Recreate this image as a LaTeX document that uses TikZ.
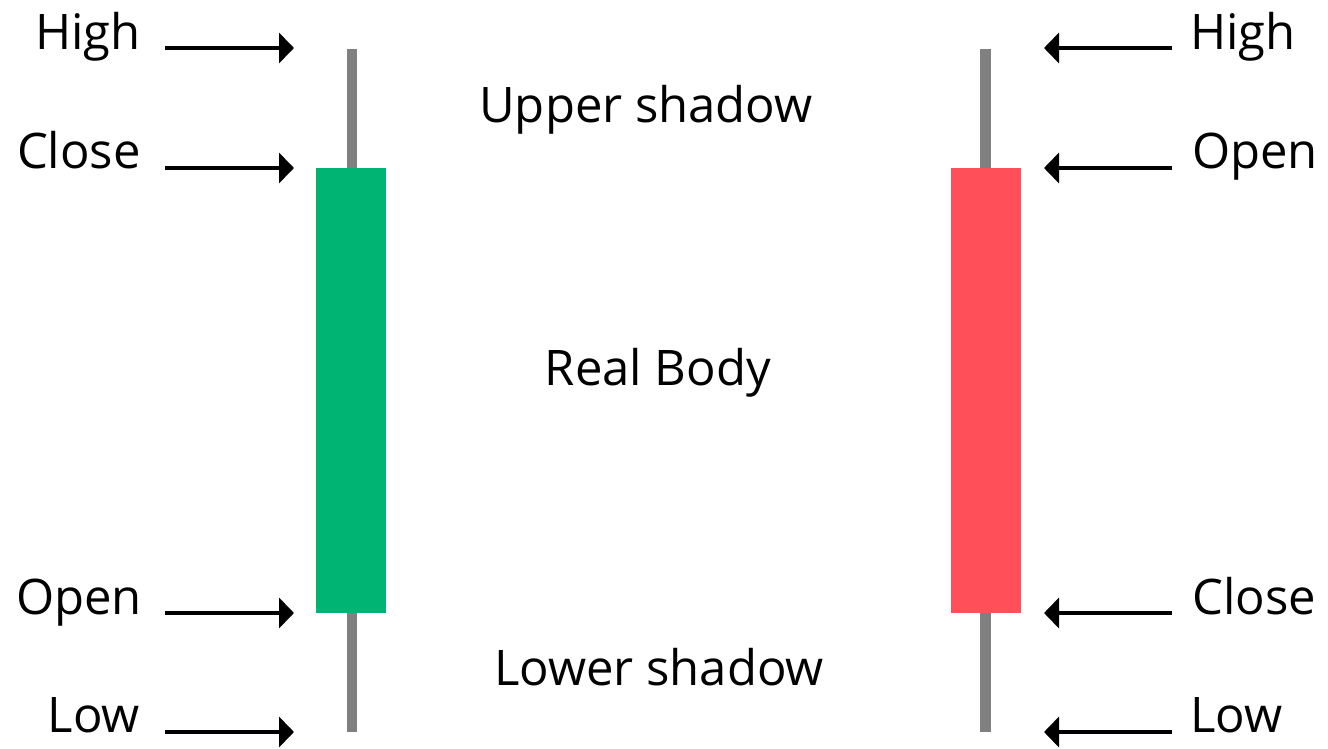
\documentclass[tikz,border=0pt]{standalone}
\usepackage{fontspec}
\setmainfont{Open Sans}
\usetikzlibrary{arrows.meta}
\definecolor{bull}{HTML}{00B574}
\definecolor{bear}{HTML}{FF505A}
\definecolor{wickgray}{HTML}{808080}
\begin{document}
\begin{tikzpicture}[x=1pt,y=-1pt,
  lbl/.style={inner sep=0pt,font=\fontsize{49}{58}\selectfont},
  ptr/.style={line width=4.5pt,-{Triangle[length=15pt,width=30pt]}},
  wick/.style={fill=wickgray,draw=none},
  body/.style={draw=none}]
\useasboundingbox[fill=white] (0,0) rectangle (1328,749);
% green candle
\fill[wick] (347,49) rectangle (357,732);
\fill[bull] (316,168) rectangle (386,613);
% red candle
\fill[wick] (980,49) rectangle (991,732);
\fill[bear] (951,168) rectangle (1021,613);
% left labels
\node[lbl,anchor=base east] (lh) at (141,50) {High};
\node[lbl,anchor=base east] (lc) at (141,168) {Close};
\node[lbl,anchor=base east] (lo) at (142,614) {Open};
\node[lbl,anchor=base east] (ll) at (140,732) {Low};
% right labels
\node[lbl,anchor=base west] (rh) at (1190,50) {High};
\node[lbl,anchor=base west] (ro) at (1192,168) {Open};
\node[lbl,anchor=base west] (rc) at (1192,614) {Close};
\node[lbl,anchor=base west] (rl) at (1190,732) {Low};
% middle labels
\node[lbl,anchor=base] (us) at (646,123) {Upper shadow};
\node[lbl,anchor=base] (rb) at (658,385) {Real Body};
\node[lbl,anchor=base] (ls) at (659,685) {Lower shadow};
% arrow coordinates
\coordinate (a1s) at (165,48); \coordinate (a1e) at (294,48);
\coordinate (a2s) at (165,168); \coordinate (a2e) at (294,168);
\coordinate (a3s) at (165,613); \coordinate (a3e) at (294,613);
\coordinate (a4s) at (165,732); \coordinate (a4e) at (294,732);
\coordinate (b1s) at (1172,48); \coordinate (b1e) at (1044,48);
\coordinate (b2s) at (1172,168); \coordinate (b2e) at (1044,168);
\coordinate (b3s) at (1172,613); \coordinate (b3e) at (1044,613);
\coordinate (b4s) at (1172,732); \coordinate (b4e) at (1044,732);
\foreach \n in {a1,a2,a3,a4,b1,b2,b3,b4}{
  \draw[ptr] (\n s) -- (\n e);
}
\end{tikzpicture}
\end{document}
